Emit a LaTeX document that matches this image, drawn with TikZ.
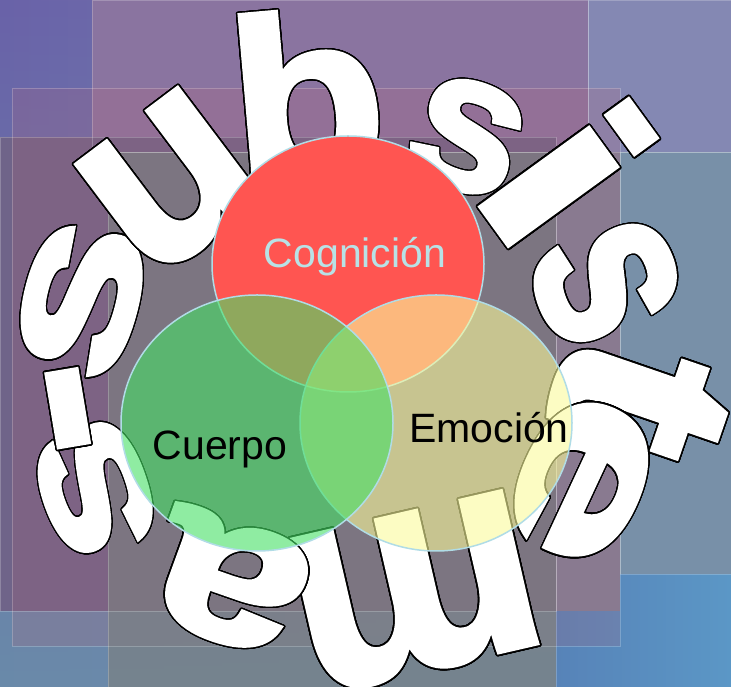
\documentclass[tikz,border=0pt]{standalone}
\usepackage{fontspec}
\setmainfont{Liberation Sans}
\usepackage{contour}
\contourlength{1.2pt}
\contournumber{32}
\usetikzlibrary{fadings}
\newcommand{\heavy}[1]{\special{pdf:literal direct 0 j 4 M 5 w 2 Tr}#1\special{pdf:literal direct 0 Tr}}
\newcommand{\outl}[1]{\contour{black}{\heavy{#1}}}
\definecolor{bgUL}{HTML}{6962A8}
\definecolor{bgUR}{HTML}{8488B4}
\definecolor{bgLow}{HTML}{6A8AAA}
\definecolor{bgBRa}{HTML}{5783B8}
\definecolor{bgBRb}{HTML}{5B97C6}
\definecolor{topband}{HTML}{8A74A0}
\definecolor{topright}{HTML}{8488B3}
\definecolor{midright}{HTML}{7890A8}
\definecolor{midstrip}{HTML}{7E8098}
\definecolor{rectB}{HTML}{6F6489}
\definecolor{tintA}{HTML}{C06070}
\definecolor{grayC}{HTML}{7C8080}
\definecolor{redc}{HTML}{FF5551}
\definecolor{greenc}{HTML}{45E065}
\definecolor{yellowc}{HTML}{FAFA9B}
\definecolor{vennedge}{HTML}{B0DCE6}
\definecolor{coglbl}{HTML}{B8E2E6}
\begin{document}
\begin{tikzpicture}[x=1pt,y=1pt]
\tikzset{
  letter/.style={text=white, inner sep=0pt, font=\fontsize{200}{200}\selectfont\bfseries},
  venn/.style={draw=vennedge, line width=1.5pt},
  lbl/.style={inner sep=0pt, anchor=base, font=\fontsize{41}{41}\selectfont},
  bgline/.style={draw=white, draw opacity=0.22, line width=0.8pt}
}
\useasboundingbox (0,0) rectangle (731,687);
\clip (0,0) rectangle (731,687);
% background
\shade[left color=bgUL, right color=bgUR] (0,0) rectangle (731,687);
\fill[bgLow, path fading=north] (0,0) rectangle (731,687);
\shade[left color=bgBRa, right color=bgBRb] (556,0) rectangle (731,113);
\fill[topband] (92,535) rectangle (588,687);
\fill[topright] (588,535) rectangle (731,687);
\fill[midright] (620,113) rectangle (731,535);
\fill[midstrip] (556,76) rectangle (620,535);
\fill[rectB] (0,76) rectangle (556,550);
\fill[tintA, fill opacity=0.18] (12,41) rectangle (620,599);
\fill[grayC, fill opacity=0.65] (108,0) rectangle (556,535);
\draw[bgline] (92,535) rectangle (588,687);
\draw[bgline] (588,535) rectangle (731,687);
\draw[bgline] (620,113) rectangle (731,535);
\draw[bgline] (0,76) rectangle (556,550);
\draw[bgline] (12,41) rectangle (620,599);
\draw[bgline] (108,0) rectangle (556,535);
% letters
\node[letter, rotate=75, xscale=1.44, yscale=1.0] (s1) at (82,388) {\outl{s}};
\node[letter, rotate=37, xscale=1.3, yscale=1.3] (u1) at (171,504) {\outl{u}};
\node[letter, rotate=5, xscale=1.25, yscale=1.17] (b1) at (307,590) {\outl{b}};
\node[letter, rotate=-20, xscale=1.0, yscale=0.98] (s2) at (467,550) {\outl{s}};
\node[letter, rotate=-54, xscale=1.6, yscale=1.25] (i1) at (568,514) {\outl{i}};
\node[letter, rotate=-68, xscale=1.0, yscale=1.25] (s3) at (605,405) {\outl{s}};
\node[letter, rotate=-109, xscale=1.5, yscale=1.28] (t1) at (640,290) {\outl{t}};
\node[letter, rotate=-115, xscale=1.55, yscale=1.05] (e1) at (582,208) {\outl{e}};
\node[letter, rotate=193, xscale=1.4, yscale=1.45] (m1) at (415,95) {\outl{m}};
\node[letter, rotate=160, xscale=1.35, yscale=1.08] (a1) at (231,105) {\outl{a}};
\node[letter, rotate=110, xscale=1.25, yscale=0.92] (s4) at (95,198) {\outl{s}};
\node[letter, rotate=99.5, xscale=1.4, yscale=1.2] (hy) at (92,283) {\outl{-}};
% venn circles
\fill[redc] (348,423) ellipse [x radius=136, y radius=128];
\draw[venn] (348,423) ellipse [x radius=136, y radius=128];
\fill[yellowc, fill opacity=0.6] (436,264) ellipse [x radius=136, y radius=128];
\draw[venn] (436,264) ellipse [x radius=136, y radius=128];
\fill[greenc, fill opacity=0.6] (257,264) ellipse [x radius=136, y radius=128];
\draw[venn] (257,264) ellipse [x radius=136, y radius=128];
% labels
\node[lbl, text=coglbl] (cog) at (355,419) {Cognición};
\node[lbl, text=black] (cue) at (220,227) {Cuerpo};
\node[lbl, text=black] (emo) at (489,244) {Emoción};
\end{tikzpicture}
\end{document}
